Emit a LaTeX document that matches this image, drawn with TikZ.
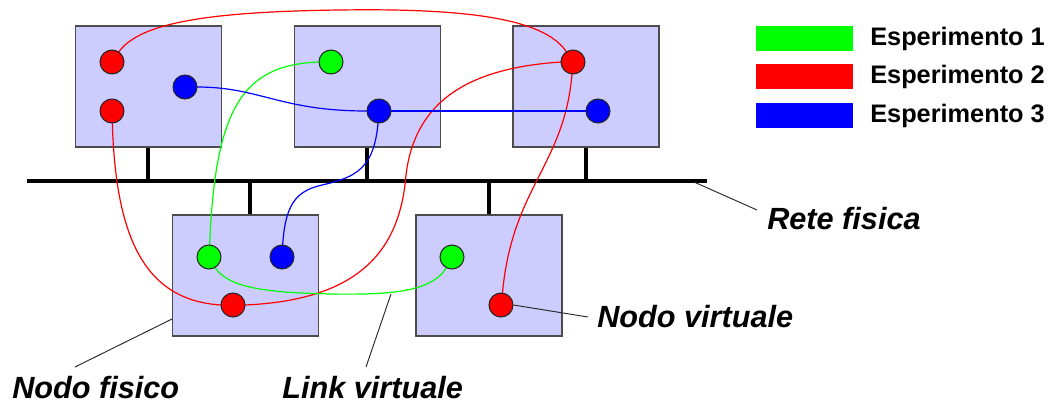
\documentclass[tikz,border=0pt]{standalone}
\usepackage{fontspec}
\setmainfont{Liberation Sans}
\definecolor{boxblue}{RGB}{204,204,255}
\definecolor{lgreen}{RGB}{0,255,0}
\definecolor{lred}{RGB}{255,0,0}
\definecolor{lblue}{RGB}{0,0,255}
\begin{document}
\begin{tikzpicture}[x=0.75pt,y=-0.75pt,
  pbox/.style={draw=black!70,line width=1.1pt,fill=boxblue,minimum width=109.5pt,minimum height=90.75pt,inner sep=0},
  vn/.style={circle,draw=black!85,line width=0.8pt,minimum size=18pt,inner sep=0},
  link/.style={line width=0.9pt},
  busline/.style={line width=3pt},
  lead/.style={draw=black!85,line width=0.7pt},
  lbl/.style={font=\fontsize{23}{26}\selectfont\bfseries\itshape,inner sep=0,anchor=base west},
  leg/.style={font=\fontsize{19}{22}\selectfont\bfseries,inner sep=0,anchor=base west},
  legbox/.style={minimum width=72.75pt,minimum height=18.75pt,inner sep=0}]
\useasboundingbox (0,0) rectangle (1050,404);

% bus
\coordinate (busL) at (27,181);
\coordinate (busR) at (707,181);

% physical nodes
\node[pbox] (A) at (148.4,86.5) {};
\node[pbox] (B) at (367.4,86.5) {};
\node[pbox] (C) at (585.9,86.5) {};
\node[pbox] (D) at (245.5,275.5) {};
\node[pbox] (E) at (488.8,275.5) {};

\draw[busline] (busL) -- (busR);
\draw[busline] (A.south) -- (A.south |- busL);
\draw[busline] (B.south) -- (B.south |- busL);
\draw[busline] (C.south) -- (C.south |- busL);
\draw[busline] ([xshift=3pt]D.north) -- ([xshift=3pt]D.north |- busL);
\draw[busline] (E.north) -- (E.north |- busL);

% virtual node positions
\coordinate (pRA1) at (112,62);
\coordinate (pRA2) at (112,111);
\coordinate (pBA) at (185,87);
\coordinate (pGB) at (331,62);
\coordinate (pBB) at (379,111);
\coordinate (pRC) at (573,62);
\coordinate (pBC) at (598,111);
\coordinate (pGD) at (209,257);
\coordinate (pBD) at (282,257);
\coordinate (pRD) at (233,305);
\coordinate (pGE) at (452,257);
\coordinate (pRE) at (501,305);

% virtual links (drawn first, under the circles)
% experiment 2 (red)
\draw[link,lred] ([yshift=-9pt]pRA1) .. controls (112,28) and (180,12) .. (340,10) coordinate (topm)
  .. controls (480,8) and (573,20) .. ([yshift=-9pt]pRC);
\draw[link,lred] ([yshift=9pt]pRA2) .. controls (112,230) and (140,300) .. ([xshift=-9pt]pRD);
\draw[link,lred] ([xshift=9pt]pRD) .. controls (360,300) and (400,250) .. (406,175) coordinate (rmid)
  .. controls (415,100) and (470,68) .. ([xshift=-9pt]pRC);
\draw[link,lred] ([yshift=9pt]pRC) .. controls (573,170) and (505,180) .. ([yshift=-9pt]pRE);
% experiment 1 (green)
\draw[link,lgreen] ([xshift=-9pt]pGB) .. controls (240,65) and (212,110) .. ([yshift=-9pt]pGD);
\draw[link,lgreen] ([yshift=9pt]pGD) .. controls (209,286) and (250,292) .. (330,294) coordinate (gmid)
  .. controls (400,295) and (452,292) .. ([yshift=9pt]pGE);
% experiment 3 (blue)
\draw[link,lblue] ([xshift=9pt]pBA) .. controls (260,87) and (280,111) .. ([xshift=-9pt]pBB);
\draw[link,lblue] ([xshift=9pt]pBB) -- ([xshift=-9pt]pBC);
\draw[link,lblue] ([yshift=9pt]pBB) .. controls (379,165) and (362,176) .. (322,185) coordinate (bmid)
  .. controls (292,192) and (282,208) .. ([yshift=-9pt]pBD);

% virtual nodes
\node[vn,fill=lred] (RA1) at (pRA1) {};
\node[vn,fill=lred] (RA2) at (pRA2) {};
\node[vn,fill=lblue] (BA) at (pBA) {};
\node[vn,fill=lgreen] (GB) at (pGB) {};
\node[vn,fill=lblue] (BB) at (pBB) {};
\node[vn,fill=lred] (RC) at (pRC) {};
\node[vn,fill=lblue] (BC) at (pBC) {};
\node[vn,fill=lgreen] (GD) at (pGD) {};
\node[vn,fill=lblue] (BD) at (pBD) {};
\node[vn,fill=lred] (RD) at (pRD) {};
\node[vn,fill=lgreen] (GE) at (pGE) {};
\node[vn,fill=lred] (RE) at (pRE) {};

% legend
\node[legbox,fill=lgreen] (L1) at (804.4,38.4) {};
\node[legbox,fill=lred] (L2) at (804.4,76.5) {};
\node[legbox,fill=lblue] (L3) at (804.4,115.2) {};
\node[leg] (T1) at (870,45) {Esperimento 1};
\node[leg] (T2) at (870,83.5) {Esperimento 2};
\node[leg] (T3) at (870,122) {Esperimento 3};

% labels
\node[lbl] (rete) at (767,229) {Rete fisica};
\node[lbl] (nv) at (597,327) {Nodo virtuale};
\node[lbl] (nf) at (12,398) {Nodo fisico};
\node[lbl] (lv) at (282,398) {Link virtuale};

\coordinate (c1) at (694,182);
\coordinate (c1e) at (757,210);
\draw[lead] (c1) -- (c1e);
\coordinate (c2e) at (588,317);
\draw[lead] (RE.east) -- (c2e);
\coordinate (c3s) at (172,319);
\coordinate (c3e) at (75,367);
\draw[lead] (c3s) -- (c3e);
\coordinate (c4s) at (391,294);
\coordinate (c4e) at (366,367);
\draw[lead] (c4s) -- (c4e);
\end{tikzpicture}
\end{document}
